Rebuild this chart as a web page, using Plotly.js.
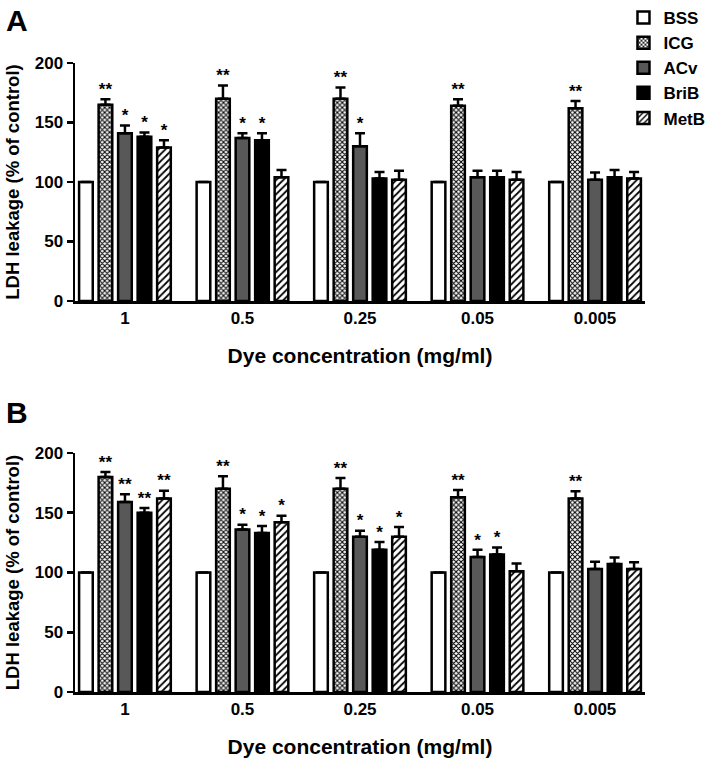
<!DOCTYPE html>
<html>
<head>
<meta charset="utf-8">
<script src="https://cdn.plot.ly/plotly-3.0.1.min.js"></script>
<style>html,body{margin:0;padding:0;background:#fff;}#chart{width:715px;height:767px;}</style>
</head>
<body>
<div id="chart"></div>
<script>
// ---- Data ----
const categories = ['1', '0.5', '0.25', '0.05', '0.005'];
const seriesNames = ['BSS', 'ICG', 'ACv', 'BriB', 'MetB'];

// Panel A
const A_BSS  = [100, 100, 100, 100, 100];
const A_ICG  = [165, 170, 170, 164, 162];
const A_ACv  = [141, 137, 130, 104, 102];
const A_BriB = [138, 135, 103, 104, 104];
const A_MetB = [129, 104, 102, 102, 103];
const A_BSS_err  = [0, 0, 0, 0, 0];
const A_ICG_err  = [4.5, 11, 9.5, 5.5, 6];
const A_ACv_err  = [6.5, 4, 11, 5.5, 6];
const A_BriB_err = [3.5, 6, 5.5, 5.5, 6];
const A_MetB_err = [6, 6, 7.5, 6.5, 5.5];
const A_BSS_sig  = ['', '', '', '', ''];
const A_ICG_sig  = ['**', '**', '**', '**', '**'];
const A_ACv_sig  = ['*', '*', '*', '', ''];
const A_BriB_sig = ['*', '*', '', '', ''];
const A_MetB_sig = ['*', '', '', '', ''];

// Panel B
const B_BSS  = [100, 100, 100, 100, 100];
const B_ICG  = [180, 170, 170, 163, 162];
const B_ACv  = [159, 136, 130, 113, 103];
const B_BriB = [150, 133, 119, 115, 107];
const B_MetB = [162, 142, 130, 101, 103];
const B_BSS_err  = [0, 0, 0, 0, 0];
const B_ICG_err  = [4, 10.5, 9, 6, 6];
const B_ACv_err  = [6.5, 4, 5, 6, 6];
const B_BriB_err = [4, 6, 6.5, 6, 5.5];
const B_MetB_err = [6.5, 5.5, 8, 6.5, 5.5];
const B_BSS_sig  = ['', '', '', '', ''];
const B_ICG_sig  = ['**', '**', '**', '**', '**'];
const B_ACv_sig  = ['**', '*', '*', '*', ''];
const B_BriB_sig = ['**', '*', '*', '*', ''];
const B_MetB_sig = ['**', '*', '*', '', ''];

const yTickVals = [0, 50, 100, 150, 200];
const xTitle = 'Dye concentration (mg/ml)';
const yTitle = 'LDH leakage (% of control)';

// ---- Styles ----
const FONT = 'Liberation Sans, Arial, Helvetica, sans-serif';
const styles = {
  BSS:  {color: '#ffffff', pattern: {shape: ''}},
  ICG:  {color: '#ffffff', pattern: {shape: 'x', fgcolor: '#000', bgcolor: '#fff', size: 3.5, solidity: 0.5}},
  ACv:  {color: '#585858', pattern: {shape: ''}},
  BriB: {color: '#000000', pattern: {shape: ''}},
  MetB: {color: '#ffffff', pattern: {shape: '/', fgcolor: '#000', bgcolor: '#fff', size: 5, solidity: 0.35}}
};

const panelA = {vals: [A_BSS, A_ICG, A_ACv, A_BriB, A_MetB], errs: [A_BSS_err, A_ICG_err, A_ACv_err, A_BriB_err, A_MetB_err], sigs: [A_BSS_sig, A_ICG_sig, A_ACv_sig, A_BriB_sig, A_MetB_sig]};
const panelB = {vals: [B_BSS, B_ICG, B_ACv, B_BriB, B_MetB], errs: [B_BSS_err, B_ICG_err, B_ACv_err, B_BriB_err, B_MetB_err], sigs: [B_BSS_sig, B_ICG_sig, B_ACv_sig, B_BriB_sig, B_MetB_sig]};

const traces = [];
function addPanel(p, xa, ya, showLegend) {
  seriesNames.forEach((name, i) => {
    const st = styles[name];
    traces.push({
      type: 'bar', name: name, x: categories, y: p.vals[i],
      xaxis: xa, yaxis: ya, showlegend: showLegend, legendgroup: name,
      marker: {color: st.color, pattern: st.pattern, line: {color: '#000', width: 2.5}},
      error_y: {type: 'data', symmetric: false, array: p.errs[i], arrayminus: p.errs[i].map(() => 0),
                visible: true, color: '#000', thickness: 2.5, width: 5},
      hoverinfo: 'skip'
    });
  });
  seriesNames.forEach((name, i) => {
    traces.push({
      type: 'scatter', mode: 'text', x: categories,
      y: p.vals[i].map((v, k) => v + p.errs[i][k]),
      text: p.sigs[i], textposition: 'top center',
      textfont: {family: FONT, size: 17, color: '#000', weight: 'bold'},
      xaxis: xa, yaxis: ya, showlegend: false, hoverinfo: 'skip', cliponaxis: false
    });
  });
}
addPanel(panelA, 'x', 'y', true);
addPanel(panelB, 'x2', 'y2', false);

const tickFont = {family: FONT, size: 17, color: '#000', weight: 'bold'};
function xAxis(anchor) {
  return {
    anchor: anchor, domain: [0, 1], type: 'category', range: [-0.425, 4.425],
    showline: true, linecolor: '#000', linewidth: 2.5, ticks: '', showgrid: false, zeroline: false,
    tickfont: tickFont, fixedrange: true,
    title: {text: xTitle, font: {family: FONT, size: 21, color: '#000', weight: 'bold'}, standoff: 22}
  };
}
function yAxis(anchor, domain) {
  return {
    anchor: anchor, domain: domain, range: [0, 200], tickvals: yTickVals,
    showline: true, linecolor: '#000', linewidth: 2.5, ticks: 'outside', ticklen: 6, tickwidth: 2.5, tickcolor: '#000',
    showgrid: false, zeroline: false, tickfont: tickFont, fixedrange: true,
    title: {text: yTitle, font: {family: FONT, size: 18.5, color: '#000', weight: 'bold'}, standoff: 10}
  };
}

const layout = {
  width: 715, height: 767,
  margin: {l: 75, r: 70, t: 63, b: 75, autoexpand: false},
  paper_bgcolor: '#fff', plot_bgcolor: '#fff',
  font: {family: FONT, color: '#000'},
  barmode: 'group', bargap: 0.17, bargroupgap: 0.3,
  scattermode: 'group', scattergap: 0.17,
  xaxis: xAxis('y'), yaxis: yAxis('x', [0.6216, 1]),
  xaxis2: xAxis('y2'), yaxis2: yAxis('x2', [0, 0.38]),
  showlegend: true,
  legend: {xref: 'container', yref: 'container', x: 0.872, y: 1.01, xanchor: 'left', yanchor: 'top',
           font: {family: FONT, size: 17, color: '#000', weight: 'bold'}, bgcolor: 'rgba(0,0,0,0)',
           itemwidth: 30, tracegroupgap: 0},
  annotations: [
    {text: 'A', xref: 'paper', yref: 'paper', x: -0.124, y: 1.0668, xanchor: 'left', yanchor: 'middle', showarrow: false,
     font: {family: FONT, size: 30, color: '#000', weight: 'bold'}},
    {text: 'B', xref: 'paper', yref: 'paper', x: -0.124, y: 0.445, xanchor: 'left', yanchor: 'middle', showarrow: false,
     font: {family: FONT, size: 30, color: '#000', weight: 'bold'}}
  ]
};

Plotly.newPlot('chart', traces, layout, {staticPlot: true, displayModeBar: false});
</script>
</body>
</html>
